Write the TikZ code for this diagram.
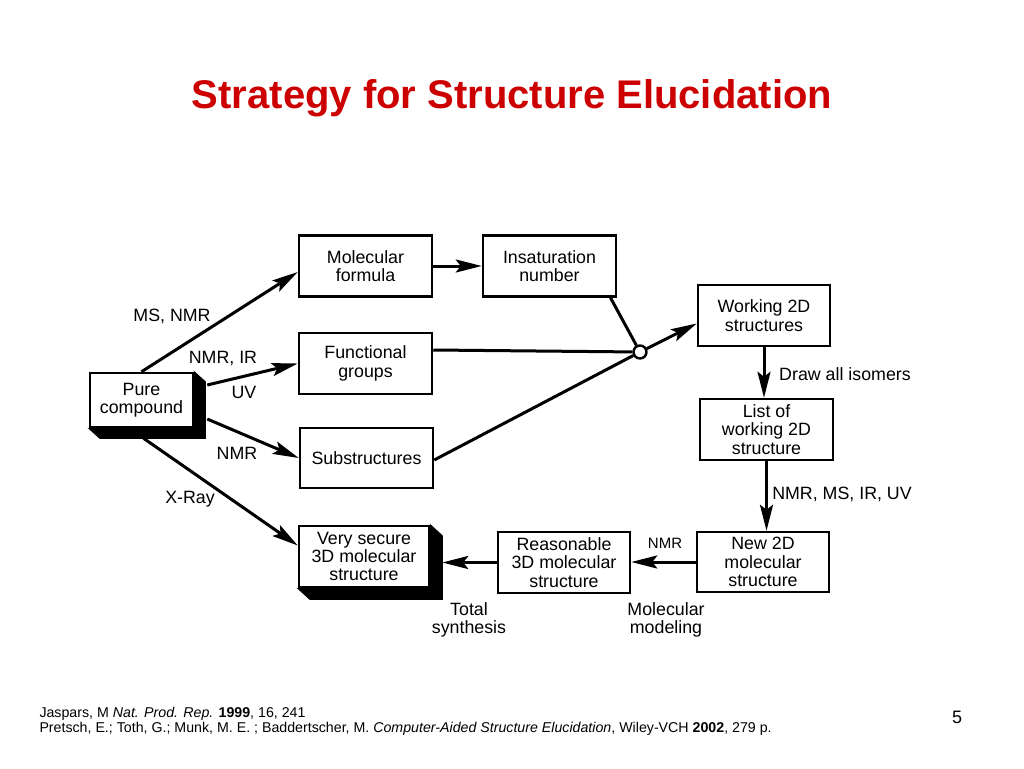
\documentclass[tikz,border=0pt]{standalone}
\usepackage{fontspec}
\setmainfont{Liberation Sans}
\usetikzlibrary{arrows.meta,calc}
\definecolor{titlered}{RGB}{204,0,0}

\begin{document}
\begin{tikzpicture}[x=1pt, y=-1pt,
           > = {Stealth[length=26pt, width=13pt, inset=5pt]},
          line width=3pt,
 stepbox/.style = {draw, line width=2.5pt, fill=white, align=center,
                   font=\fontsize{17.8}{18.3}\selectfont,
                   minimum width=133pt, minimum height=61pt, inner sep=1pt},% boxes
     lbl/.style = {align=center, font=\fontsize{17.8}{18.3}\selectfont},% labels at arrows
   small/.style = {font=\fontsize{15}{17}\selectfont},
     ref/.style = {anchor=base west, inner sep=0pt, font=\fontsize{14.2}{15}\selectfont},
  joinpt/.style = {circle, draw, line width=2.4pt, fill=white,
                   minimum size=13pt, inner sep=0pt},% junction point
                   ]
\useasboundingbox (0,0) rectangle (1024,768);
% title
\node[anchor=base, text=titlered, font=\fontsize{40}{44}\selectfont\bfseries]
    (title) at (512,108) {Strategy for Structure Elucidation};
% boxes
\node[stepbox, minimum width=103pt, minimum height=54pt] (pure) at (141.5,400) {Pure\\compound};
\node[stepbox] (molform) at (365.5,266)   {Molecular\\formula};
\node[stepbox] (funcgrp) at (365.5,363.5) {Functional\\groups};
\node[stepbox, minimum height=60pt] (substr) at (366.5,458) {Substructures};
\node[stepbox, minimum width=130pt] (secure) at (364,556.5) {Very secure\\3D molecular\\structure};
\node[stepbox] (insat)   at (549.5,266)   {Insaturation\\number};
\node[stepbox, minimum width=132pt] (work) at (764,315.5) {Working 2D\\structures};
\node[stepbox] (list)    at (766.5,429.5) {List of\\working 2D\\structure};
\node[stepbox, minimum width=132pt, minimum height=60pt] (new) at (763,562) {New 2D\\molecular\\structure};
\node[stepbox, minimum width=132pt] (reason) at (564,562.5) {Reasonable\\3D molecular\\structure};
\node[joinpt] (jn) at (640,352) {};
% 3D sides of two boxes
\foreach \n/\dx/\dy in {pure/11/10, secure/12/11}
  \filldraw[line width=1pt, line join=miter]
    (\n.north east) -- ++(\dx,\dy) -- ($(\n.south east)+(\dx,\dy)$)
    -- ($(\n.south west)+(\dx,\dy)$) -- (\n.south west) -- (\n.south east) -- cycle;
% from the pure compound
\draw[->] (pure.north) -- ($(molform.west)+(0,6)$);
\draw[->] ($(pure.east)+(13,-15)$) -- (funcgrp.west);
\draw[->] ($(pure.east)+(13,19)$) -- (substr.west);
\draw[->] ($(pure.south)+(2,10)$) -- ($(secure.west)+(0,-11)$);
\node[lbl] (l1) at (172,316) {MS, NMR};
\node[lbl] (l2) at (223,359) {NMR, IR};
\node[lbl] (l3) at (244,392) {UV};
\node[lbl] (l4) at (237,453) {NMR};
\node[lbl] (l5) at (190,499) {X-Ray};
% into the junction
\draw[->] (molform.east) -- (insat.west);
\draw ($(insat.south)+(61,0)$) -- (jn);
\draw ($(funcgrp.east)+(0,-13.5)$) -- (jn);
\draw ($(substr.east)+(0,2)$) -- (jn);
\draw[->] (jn) -- ($(work.west)+(0,8)$);
% right column and bottom row
\draw[->] (work.south) -- (work.south |- list.north);
\draw[->] (list.south) -- (list.south |- new.north);
\draw[->] (new.west) -- (new.west -| reason.east);
\draw[->] (reason.west) -- ($(secure.east |- reason.west)+(12,0)$);
\node[lbl] (l6) at (845,374) {Draw all isomers};
\node[lbl] (l7) at (842,494) {NMR, MS, IR, UV};
\node[small] (l8) at (665,543) {NMR};
\node[lbl] (l9) at (469,620) {Total\\synthesis};
\node[lbl] (l10) at (666,620) {Molecular\\modeling};
% references and page number
\node[ref] (ref1) at (38,717)
    {Jaspars, M \textit{Nat. Prod. Rep.} \textbf{1999}, 16, 241};
\node[ref] (ref2) at (38,732)
    {Pretsch, E.; Toth, G.; Munk, M. E. ; Baddertscher, M. \textit{Computer-Aided Structure Elucidation}, Wiley-VCH \textbf{2002}, 279 p.};
\node[anchor=base, font=\fontsize{18}{20}\selectfont] (page) at (957,723) {5};
\end{tikzpicture}
\end{document}
